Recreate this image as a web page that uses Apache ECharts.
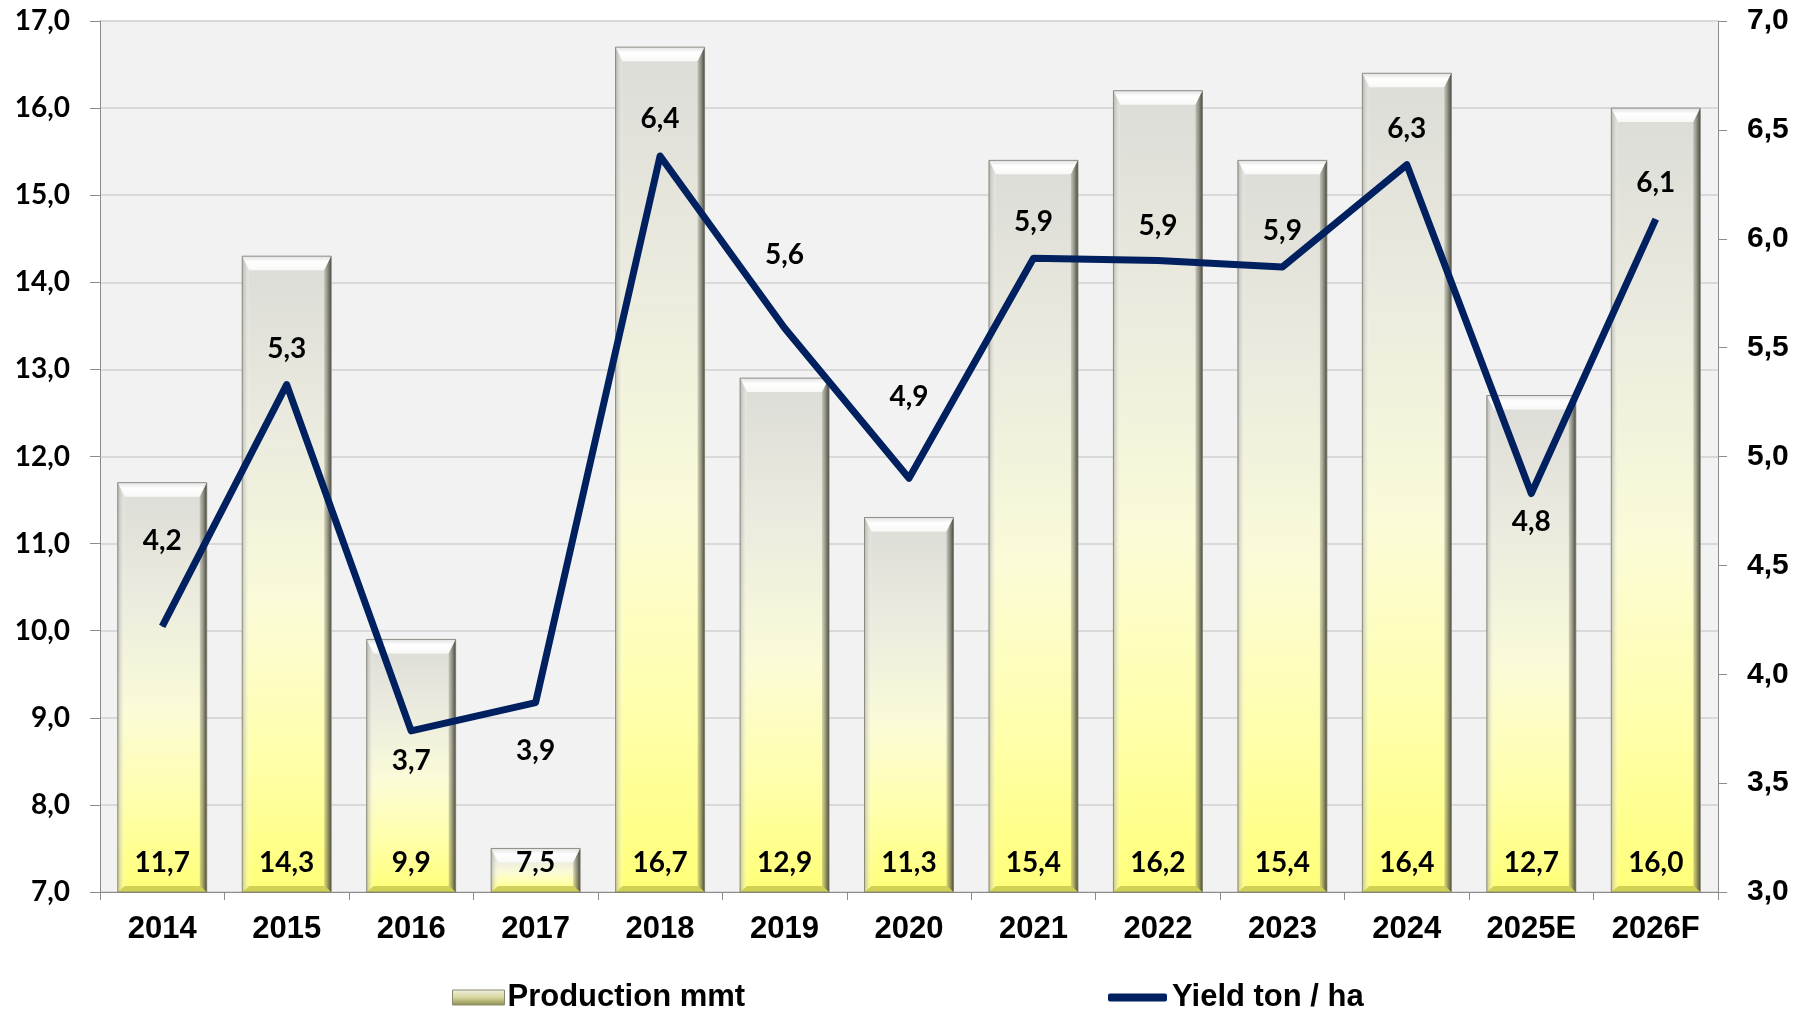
<!DOCTYPE html>
<html>
<head>
<meta charset="utf-8">
<title>Production and Yield</title>
<script src="https://cdn.jsdelivr.net/npm/echarts@6/dist/echarts.min.js"></script>
<style>
  html, body { margin: 0; padding: 0; background: #ffffff; }
  #chart { width: 1808px; height: 1011px; }
</style>
</head>
<body>
<div id="chart"></div>
<script>
// Marketing years
const categories = ['2014', '2015', '2016', '2017', '2018', '2019', '2020', '2021', '2022', '2023', '2024', '2025E', '2026F'];
// Production, million metric tons (left axis)
const production = [11.7, 14.3, 9.9, 7.5, 16.7, 12.9, 11.3, 15.4, 16.2, 15.4, 16.4, 12.7, 16.0];
// Yield, tons per hectare (right axis)
const yieldValues = [4.22, 5.33, 3.74, 3.87, 6.38, 5.59, 4.90, 5.91, 5.90, 5.87, 6.34, 4.83, 6.09];
// Axis ranges
const prodAxis = { min: 7, max: 17, interval: 1 };
const yieldAxis = { min: 3, max: 7, interval: 0.5 };

// Vertical placement of each yield label relative to its point (px)
const yieldLabelOffsets = [-85, -36, 30, 48, -37, -73, -81, -36, -35, -36, -36, 28, -36];

const fmt = v => v.toFixed(1).replace('.', ',');
const calibriLike = 'Lato';
const arialLike = 'Liberation Sans';

const bodyGradient = {
  type: 'linear', x: 0, y: 0, x2: 0, y2: 1,
  colorStops: [
    { offset: 0, color: '#dcdcd8' },
    { offset: 0.3, color: '#ececdf' },
    { offset: 0.55, color: '#fbfbd8' },
    { offset: 0.8, color: '#ffffa8' },
    { offset: 1, color: '#ffff78' }
  ]
};

// Bevelled bar: body gradient, lit top/left edges, shaded right/bottom edges, value at the foot
function renderBar(params, api) {
  const i = api.value(0);
  const v = api.value(1);
  const top = api.coord([i, v]);
  const base = api.coord([i, prodAxis.min]);
  const w = api.size([1, 0])[0] * 0.715;
  const x0 = top[0] - w / 2, x1 = top[0] + w / 2;
  const y0 = top[1], y1 = base[1];
  const h = y1 - y0;
  const bt = Math.min(14, h / 3);
  const bs = 7;
  const bb = Math.min(6, h / 5);
  return {
    type: 'group',
    children: [
      { type: 'rect', shape: { x: x0, y: y0, width: w, height: h },
        style: { fill: bodyGradient } },
      // top bevel
      { type: 'polygon', shape: { points: [[x0, y0], [x1, y0], [x1 - bs, y0 + bt], [x0 + bs, y0 + bt]] },
        style: { fill: { type: 'linear', x: 0, y: 0, x2: 0, y2: 1,
          colorStops: [{ offset: 0, color: '#e2e2e2' }, { offset: 0.4, color: '#ffffff' }, { offset: 1, color: '#f8f8f6' }] } } },
      // left bevel
      { type: 'polygon', shape: { points: [[x0, y0], [x0 + bs, y0 + bt], [x0 + bs, y1 - bb], [x0, y1]] },
        style: { fill: { type: 'linear', x: 0, y: 0, x2: 1, y2: 0,
          colorStops: [{ offset: 0, color: 'rgba(150,150,140,0.55)' }, { offset: 1, color: 'rgba(255,255,255,0.15)' }] } } },
      // right bevel
      { type: 'polygon', shape: { points: [[x1, y0], [x1, y1], [x1 - bs, y1 - bb], [x1 - bs, y0 + bt]] },
        style: { fill: { type: 'linear', x: 0, y: 0, x2: 1, y2: 0,
          colorStops: [{ offset: 0, color: 'rgba(120,120,100,0.3)' }, { offset: 1, color: 'rgba(55,55,45,0.9)' }] } } },
      // bottom bevel
      { type: 'polygon', shape: { points: [[x0, y1], [x0 + bs, y1 - bb], [x1 - bs, y1 - bb], [x1, y1]] },
        style: { fill: 'rgba(150,150,40,0.45)' } },
      // outline
      { type: 'rect', shape: { x: x0, y: y0, width: w, height: h },
        style: { fill: 'none', stroke: 'rgba(120,120,110,0.8)', lineWidth: 1 } },
      // value
      { type: 'text', style: { text: fmt(v), x: top[0], y: y1 - 29, align: 'center', verticalAlign: 'middle',
          fontFamily: calibriLike, fontWeight: 'bold', fontSize: 28, fill: '#000' } }
    ]
  };
}

const chart = echarts.init(document.getElementById('chart'), null, { renderer: 'canvas' });

chart.setOption({
  animation: false,
  backgroundColor: '#ffffff',
  grid: {
    left: 100, right: 90, top: 21, bottom: 119,
    show: true, backgroundColor: '#f2f2f2', borderWidth: 0,
    containLabel: false
  },
  legend: [
    {
      data: [{ name: 'Production mmt', icon: 'rect', itemStyle: { color: {
        type: 'linear', x: 0, y: 0, x2: 0, y2: 1,
        colorStops: [{ offset: 0, color: '#f0f0e4' }, { offset: 0.5, color: '#d6d69c' }, { offset: 1, color: '#8c8c50' }] },
        borderColor: '#8a8a70', borderWidth: 1 } }],
      left: 452, top: 982, padding: 0,
      itemWidth: 52, itemHeight: 15, itemGap: 0,
      textStyle: { fontFamily: arialLike, fontWeight: 'bold', fontSize: 31, color: '#000', padding: [0, 0, 0, -2] }
    },
    {
      data: [{ name: 'Yield ton / ha', icon: 'roundRect', itemStyle: { color: '#002060' } }],
      left: 1108, top: 982, padding: 0,
      itemWidth: 59, itemHeight: 8, itemGap: 0,
      textStyle: { fontFamily: arialLike, fontWeight: 'bold', fontSize: 31, color: '#000' }
    }
  ],
  xAxis: {
    type: 'category',
    data: categories,
    boundaryGap: true,
    axisLine: { show: true, lineStyle: { color: '#8c8c8c', width: 1 } },
    axisTick: { show: true, length: 8, lineStyle: { color: '#8c8c8c' } },
    axisLabel: { margin: 22, fontFamily: arialLike, fontWeight: 'bold', fontSize: 31, color: '#000' },
    splitLine: { show: false }
  },
  yAxis: [
    {
      type: 'value', position: 'left',
      min: prodAxis.min, max: prodAxis.max, interval: prodAxis.interval,
      axisLine: { show: true, lineStyle: { color: '#8c8c8c' } },
      axisTick: { show: true, length: 10, lineStyle: { color: '#8c8c8c' } },
      axisLabel: { margin: 30, formatter: v => fmt(v), fontFamily: calibriLike, fontWeight: 'bold', fontSize: 28, color: '#000' },
      splitLine: { show: true, lineStyle: { color: '#d9d9d9', width: 2 } }
    },
    {
      type: 'value', position: 'right',
      min: yieldAxis.min, max: yieldAxis.max, interval: yieldAxis.interval,
      axisLine: { show: true, lineStyle: { color: '#8c8c8c' } },
      axisTick: { show: true, length: 9, lineStyle: { color: '#8c8c8c' } },
      axisLabel: { margin: 29, formatter: v => fmt(v), fontFamily: arialLike, fontWeight: 'bold', fontSize: 30, color: '#000' },
      splitLine: { show: false }
    }
  ],
  series: [
    {
      name: 'Production mmt',
      type: 'custom',
      xAxisIndex: 0, yAxisIndex: 0,
      renderItem: renderBar,
      encode: { x: 0, y: 1 },
      data: production.map((v, i) => [i, v]),
      itemStyle: { color: '#d6d69c' },
      z: 2
    },
    {
      name: 'Yield ton / ha',
      type: 'line',
      yAxisIndex: 1,
      data: yieldValues.map((v, i) => ({ value: v, label: { offset: [0, yieldLabelOffsets[i]] } })),
      symbol: 'circle', symbolSize: 1,
      itemStyle: { color: '#002060' },
      lineStyle: { color: '#002060', width: 7, join: 'round' },
      label: {
        show: true, position: 'inside',
        formatter: p => fmt(p.value),
        fontFamily: calibriLike, fontWeight: 'bold', fontSize: 28, color: '#000'
      },
      z: 3
    }
  ]
});
</script>
</body>
</html>
